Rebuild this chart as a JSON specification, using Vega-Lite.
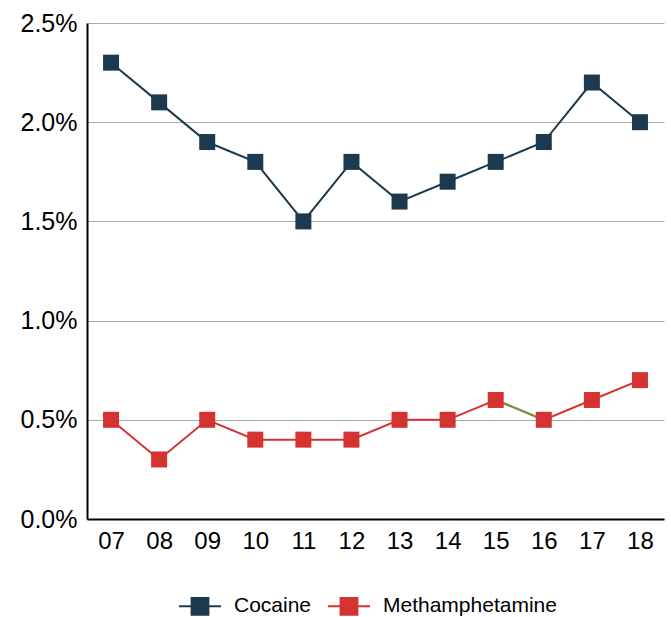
{
  "$schema": "https://vega.github.io/schema/vega-lite/v6.json",
  "width": 577,
  "height": 496,
  "autosize": {"type": "none"},
  "padding": {"left": 87, "top": 23, "right": 7, "bottom": 98},
  "background": "white",
  "config": {
    "view": {"stroke": null},
    "font": "Liberation Sans"
  },
  "datasets": {
    "main": [
      {"year": "07", "series": "Cocaine", "value": 0.023},
      {"year": "08", "series": "Cocaine", "value": 0.021},
      {"year": "09", "series": "Cocaine", "value": 0.019},
      {"year": "10", "series": "Cocaine", "value": 0.018},
      {"year": "11", "series": "Cocaine", "value": 0.015},
      {"year": "12", "series": "Cocaine", "value": 0.018},
      {"year": "13", "series": "Cocaine", "value": 0.016},
      {"year": "14", "series": "Cocaine", "value": 0.017},
      {"year": "15", "series": "Cocaine", "value": 0.018},
      {"year": "16", "series": "Cocaine", "value": 0.019},
      {"year": "17", "series": "Cocaine", "value": 0.022},
      {"year": "18", "series": "Cocaine", "value": 0.020},
      {"year": "07", "series": "Methamphetamine", "value": 0.005},
      {"year": "08", "series": "Methamphetamine", "value": 0.003},
      {"year": "09", "series": "Methamphetamine", "value": 0.005},
      {"year": "10", "series": "Methamphetamine", "value": 0.004},
      {"year": "11", "series": "Methamphetamine", "value": 0.004},
      {"year": "12", "series": "Methamphetamine", "value": 0.004},
      {"year": "13", "series": "Methamphetamine", "value": 0.005},
      {"year": "14", "series": "Methamphetamine", "value": 0.005},
      {"year": "15", "series": "Methamphetamine", "value": 0.006},
      {"year": "16", "series": "Methamphetamine", "value": 0.005},
      {"year": "17", "series": "Methamphetamine", "value": 0.006},
      {"year": "18", "series": "Methamphetamine", "value": 0.007}
    ],
    "hl": [
      {"year": "15", "value": 0.006},
      {"year": "16", "value": 0.005}
    ]
  },
  "encoding": {
    "x": {
      "field": "year",
      "type": "ordinal",
      "scale": {"padding": 0.5},
      "axis": {
        "title": null,
        "labelAngle": 0,
        "ticks": false,
        "domainColor": "black",
        "domainWidth": 2,
        "labelFontSize": 24,
        "labelColor": "black",
        "labelPadding": 10,
        "grid": false
      }
    },
    "y": {
      "field": "value",
      "type": "quantitative",
      "scale": {"domain": [0, 0.025], "nice": false},
      "axis": {
        "title": null,
        "format": ".1%",
        "values": [0, 0.005, 0.01, 0.015, 0.02, 0.025],
        "ticks": false,
        "domainColor": "black",
        "domainWidth": 2,
        "labelFontSize": 25,
        "labelColor": "black",
        "labelPadding": 10,
        "gridColor": "#aaaaaa",
        "gridWidth": 1
      }
    }
  },
  "layer": [
    {
      "data": {"name": "main"},
      "mark": {"type": "line", "strokeWidth": 2},
      "encoding": {
        "color": {
          "field": "series",
          "type": "nominal",
          "scale": {"domain": ["Cocaine", "Methamphetamine"], "range": ["#1b3a50", "#d43331"]},
          "legend": {
            "orient": "none",
            "legendX": 91,
            "legendY": 561,
            "direction": "horizontal",
            "title": null,
            "symbolType": "M-1,0H-0.4M0.4,0H1M-0.4,-0.4H0.4V0.4H-0.4Z",
            "symbolSize": 1764,
            "symbolStrokeWidth": 2,
            "labelFontSize": 21,
            "labelLimit": 0,
            "labelColor": "black",
            "labelOffset": 12,
            "columnPadding": 12,
            "symbolOpacity": 1,
            "encode": {
              "symbols": {
                "update": {
                  "fill": {"scale": "color", "field": "value"},
                  "stroke": {"scale": "color", "field": "value"},
                  "opacity": {"value": 1}
                }
              }
            }
          }
        }
      }
    },
    {
      "data": {"name": "hl"},
      "mark": {"type": "line", "strokeWidth": 2, "color": "#6b9a3c"}
    },
    {
      "data": {"name": "main"},
      "mark": {"type": "point", "shape": "square", "filled": true, "size": 256, "opacity": 1},
      "encoding": {
        "color": {"field": "series", "type": "nominal"}
      }
    }
  ]
}
